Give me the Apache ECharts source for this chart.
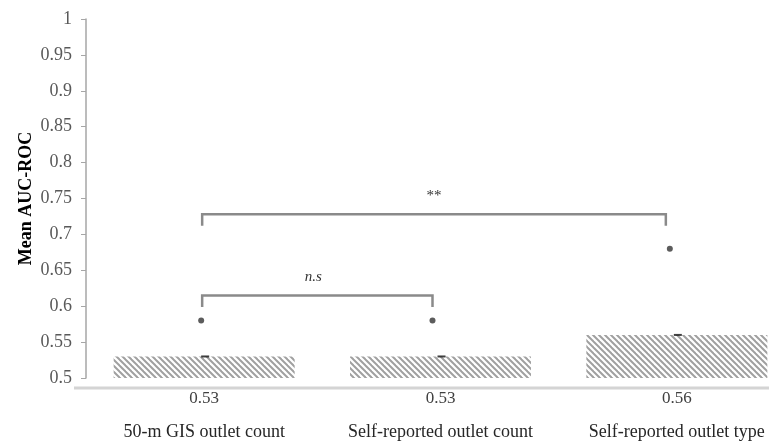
<!DOCTYPE html>
<html>
<head>
<meta charset="utf-8">
<script src="https://cdn.jsdelivr.net/npm/echarts@6/dist/echarts.min.js"></script>
<style>html,body{margin:0;padding:0;background:#fff;overflow:hidden;}#c{width:795px;height:441px;}</style>
</head>
<body>
<div id="c"></div>
<script>
// ---- data ----
var categories = ['50-m GIS outlet count', 'Self-reported outlet count', 'Self-reported outlet type'];
var meanValues = [0.53, 0.53, 0.56];
var valueLabels = ['0.53', '0.53', '0.56'];
var pointValues = [0.58, 0.58, 0.68];
var yTicks = { min: 0.5, max: 1, interval: 0.05 };
// brackets: [fromCategory, toCategory, topValue, legValue]
var bracketData = [[0, 1, 0.615, 0.599], [0, 2, 0.728, 0.712]];
var bracketLabels = ['n.s', '**'];

// ---- styles ----
var FONT = '"Liberation Serif", "Times New Roman", serif';
var pointOffsets = [[-3, 0], [-8, 0], [-7, 0]];
var bracketOffsets = [[-2, -8], [-2, -11]];

function makePattern() {
  var s = 6;
  var c = document.createElement('canvas');
  c.width = s; c.height = s;
  var ctx = c.getContext('2d');
  ctx.fillStyle = '#ffffff';
  ctx.fillRect(0, 0, s, s);
  ctx.strokeStyle = '#a0a0a0';
  ctx.lineWidth = 2;
  for (var k = -1; k <= 1; k++) {
    ctx.beginPath();
    ctx.moveTo(k * s - 1, -1);
    ctx.lineTo(k * s + s + 1, s + 1);
    ctx.stroke();
  }
  return c;
}

var chart = echarts.init(document.getElementById('c'), null, { renderer: 'canvas' });
var option = {
  animation: false,
  backgroundColor: '#ffffff',
  grid: { left: 86, top: 19, bottom: 63, right: 0, containLabel: false },
  xAxis: [{
    type: 'category',
    data: categories,
    axisLine: { show: false },
    axisTick: { show: false },
    axisLabel: { interval: 0, hideOverlap: false, margin: 45, fontFamily: FONT, fontSize: 18, color: '#262626' }
  }, {
    type: 'category',
    data: valueLabels,
    position: 'bottom',
    axisLine: { show: false },
    axisTick: { show: false },
    axisLabel: { interval: 0, hideOverlap: false, margin: 12, fontFamily: FONT, fontSize: 17, color: '#404040' }
  }],
  yAxis: {
    type: 'value',
    min: yTicks.min, max: yTicks.max, interval: yTicks.interval,
    name: 'Mean AUC-ROC',
    nameLocation: 'middle',
    nameGap: 51,
    nameMoveOverlap: false,
    nameTextStyle: { fontFamily: FONT, fontSize: 18, fontWeight: 'bold', color: '#000' },
    axisLine: { show: true, lineStyle: { color: '#a6a6a6', width: 1.5 } },
    axisTick: { show: true, length: 5, lineStyle: { color: '#a6a6a6' } },
    splitLine: { show: false },
    axisLabel: {
      margin: 14, fontFamily: FONT, fontSize: 18, color: '#595959',
      formatter: function (v) { return String(Math.round(v * 100) / 100); }
    }
  },
  graphic: [{
    type: 'line', z: 0,
    shape: { x1: 74, y1: 388, x2: 795, y2: 388 },
    style: { stroke: '#d4d4d4', lineWidth: 3 }
  }],
  series: [{
    type: 'bar',
    data: meanValues,
    barWidth: 181,
    itemStyle: { color: { image: makePattern(), repeat: 'repeat' } },
    z: 1
  }, {
    type: 'scatter',
    data: meanValues,
    symbol: 'rect',
    symbolSize: [8, 2],
    symbolOffset: [1, 0],
    itemStyle: { color: '#111' },
    z: 3
  }, {
    type: 'scatter',
    data: pointValues.map(function (v, i) { return { value: v, symbolOffset: pointOffsets[i] }; }),
    symbol: 'circle',
    symbolSize: 6,
    itemStyle: { color: '#333' },
    z: 3
  }, {
    type: 'custom',
    data: bracketData,
    encode: { x: [0, 1], y: [2, 3] },
    z: 4,
    renderItem: function (params, api) {
      var i = params.dataIndex;
      var a = api.coord([api.value(0), api.value(2)]);
      var b = api.coord([api.value(1), api.value(2)]);
      var leg = api.coord([api.value(0), api.value(3)]);
      var x1 = a[0] + bracketOffsets[i][0];
      var x2 = b[0] + bracketOffsets[i][1];
      var yt = a[1], yl = leg[1];
      return {
        type: 'group',
        children: [{
          type: 'polyline',
          shape: { points: [[x1, yl], [x1, yt], [x2, yt], [x2, yl]] },
          style: { stroke: '#8a8a8a', lineWidth: 2.5, fill: null }
        }, {
          type: 'text',
          style: {
            text: bracketLabels[i],
            x: (x1 + x2) / 2 - (i === 0 ? 4 : 0),
            y: yt - 18,
            align: 'center',
            verticalAlign: 'middle',
            font: (i === 0 ? 'italic ' : '') + '15px ' + FONT,
            fill: '#333'
          }
        }]
      };
    }
  }]
};
chart.setOption(option);
</script>
</body>
</html>
